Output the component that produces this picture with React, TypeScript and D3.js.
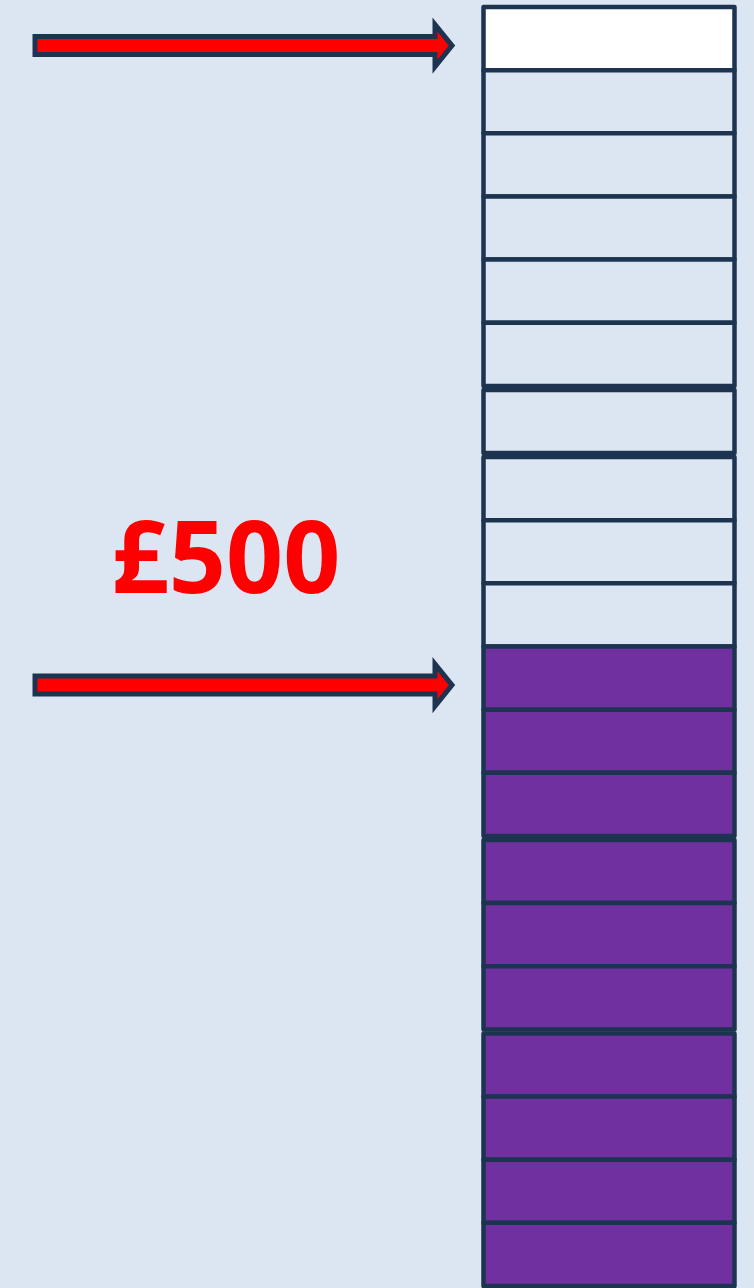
import React, { useEffect, useRef } from 'react'
import * as d3 from 'd3'

// boxes listed top to bottom, each one is worth £50
const boxStates: Array<'top' | 'empty' | 'filled'> = [
  'top',
  'empty', 'empty', 'empty', 'empty', 'empty', 'empty', 'empty', 'empty', 'empty',
  'filled', 'filled', 'filled', 'filled', 'filled', 'filled', 'filled', 'filled', 'filled', 'filled',
]
const groupSizes = [6, 1, 6, 3, 4]
const boxValue = 50
const arrowBoxes = [0, 10]

const WIDTH = 754
const HEIGHT = 1288
const BG = '#dce6f2'
const NAVY = '#1d3451'
const fills: Record<string, string> = { top: '#ffffff', empty: BG, filled: '#7030a0' }

const Stack: React.FC = () => {
  const ref = useRef<SVGSVGElement>(null)

  useEffect(() => {
    const svg = d3.select(ref.current)
    svg.selectAll('*').remove()

    const gap = 4
    const top = 7
    const bottom = 1286
    const groupOf: number[] = []
    groupSizes.forEach((n, g) => {
      for (let k = 0; k < n; k++) groupOf.push(g)
    })

    const yScale = d3
      .scaleLinear()
      .domain([0, boxStates.length])
      .range([top, bottom - gap * (groupSizes.length - 1)])
    const boxH = yScale(1) - yScale(0)
    const boxY = (i: number) => yScale(i) + gap * groupOf[i]

    const xLeft = 483.5
    const xRight = 734.5

    svg.append('rect').attr('width', WIDTH).attr('height', HEIGHT).attr('fill', BG)

    svg
      .append('g')
      .selectAll('rect')
      .data(boxStates)
      .enter()
      .append('rect')
      .attr('x', xLeft)
      .attr('y', (d, i) => boxY(i))
      .attr('width', xRight - xLeft)
      .attr('height', boxH)
      .attr('fill', (d) => fills[d])
      .attr('stroke', NAVY)
      .attr('stroke-width', 4.5)
      .attr('stroke-linejoin', 'round')

    // arrows pointing at the stack
    const arrowPath = (cy: number) => {
      const p = d3.path()
      const x0 = 35
      const xb = 435
      const tip = 452
      const sh = 9
      const hh = 21
      p.moveTo(x0, cy - sh)
      p.lineTo(xb, cy - sh)
      p.lineTo(xb, cy - hh)
      p.lineTo(tip, cy)
      p.lineTo(xb, cy + hh)
      p.lineTo(xb, cy + sh)
      p.lineTo(x0, cy + sh)
      p.closePath()
      return p.toString()
    }

    svg
      .append('g')
      .selectAll('path')
      .data(arrowBoxes)
      .enter()
      .append('path')
      .attr('d', (d) => arrowPath(boxY(d) + boxH / 2 + 7))
      .attr('fill', '#ff0000')
      .attr('stroke', NAVY)
      .attr('stroke-width', 5)
      .attr('stroke-linejoin', 'miter')

    const filledTotal = boxStates.filter((s) => s === 'filled').length * boxValue
    svg
      .append('text')
      .attr('x', 226)
      .attr('y', 593)
      .attr('text-anchor', 'middle')
      .attr('font-family', '"Noto Sans", sans-serif')
      .attr('font-weight', 'bold')
      .attr('font-size', 100)
      .attr('fill', '#ff0000')
      .text(`£${filledTotal}`)
  }, [])

  return <svg ref={ref} width={WIDTH} height={HEIGHT} style={{ display: 'block' }} />
}

export default function App() {
  useEffect(() => {
    document.body.style.margin = '0'
    document.body.style.background = BG
  }, [])
  return <Stack />
}
